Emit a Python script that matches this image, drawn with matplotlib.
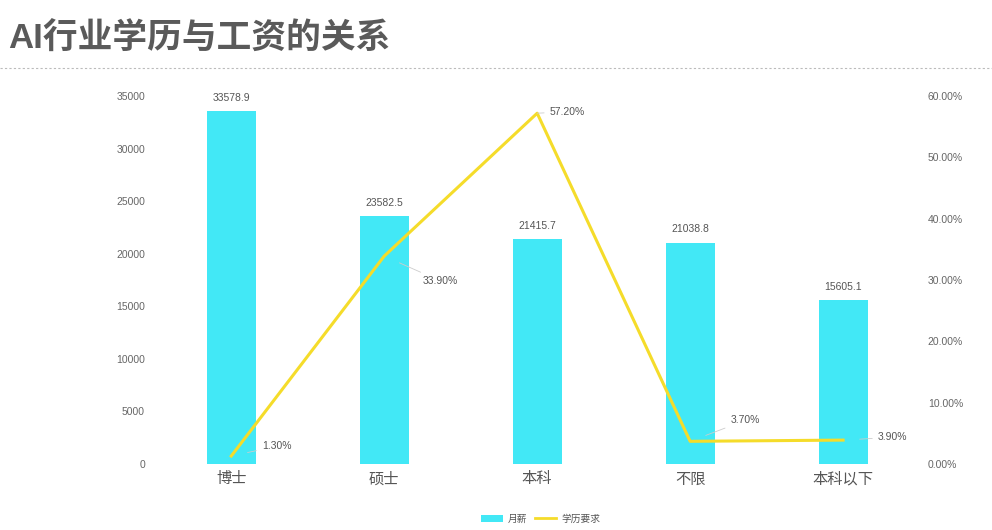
import matplotlib
matplotlib.use("Agg")
import matplotlib.pyplot as plt
from matplotlib.lines import Line2D
from matplotlib.patches import Patch

plt.rcParams['font.family'] = ['Liberation Sans', 'Noto Sans CJK SC', 'DejaVu Sans']

categories = ['博士', '硕士', '本科', '不限', '本科以下']
salary = [33578.9, 23582.5, 21415.7, 21038.8, 15605.1]
edu_share = [1.30, 33.90, 57.20, 3.70, 3.90]
left_ticks = [0, 5000, 10000, 15000, 20000, 25000, 30000, 35000]
right_ticks = [0, 10, 20, 30, 40, 50, 60]
title = 'AI行业学历与工资的关系'

bar_color = '#42e8f6'
line_color = '#f5dc2a'
txt_color = '#666666'

fig = plt.figure(figsize=(9.92, 5.30), dpi=100)
fig.patch.set_facecolor('white')

fig.text(0.008, 0.925, title, fontsize=25, fontweight='bold', color='#5a5a5a',
         ha='left', va='center', family=['Liberation Sans', 'Noto Sans CJK SC'])
fig.add_artist(Line2D([0, 1], [0.872, 0.872], transform=fig.transFigure,
                      color='#bbbbbb', lw=0.8, ls=(0, (2, 2))))

ax = fig.add_axes([0.156, 0.1245, 0.771, 0.6943])
x = list(range(len(categories)))
ax.bar(x, salary, width=0.32, color=bar_color, zorder=2)
ax.set_xlim(-0.5, 4.5)
ax.set_ylim(0, 35000)
ax.set_yticks(left_ticks)
ax.set_yticklabels([str(v) for v in left_ticks], fontsize=7.5, color=txt_color)
ax.set_xticks(x)
ax.set_xticklabels(categories, fontsize=11, color='#555555')
ax.tick_params(axis='y', length=0, pad=7)
ax.tick_params(axis='x', length=0, pad=6)
for s in ax.spines.values():
    s.set_visible(False)
for xi, v in zip(x, salary):
    ax.annotate(f'{v:.1f}', (xi, v), xytext=(0, 6), textcoords='offset points',
                ha='center', va='bottom', fontsize=7.5, color='#555555')

ax2 = ax.twinx()
ax2.set_ylim(0, 60)
ax2.set_yticks(right_ticks)
ax2.set_yticklabels([f'{v:.2f}%' for v in right_ticks], fontsize=7.5, color=txt_color)
ax2.tick_params(axis='y', length=0, pad=6)
for s in ax2.spines.values():
    s.set_visible(False)
ax2.plot(x, edu_share, color=line_color, lw=2.2, zorder=3)

# label offsets in points (dx, dy)
offsets = [(22, 7), (28, -18), (9, 1), (29, 15), (25, 2)]
for xi, v, (dx, dy) in zip(x, edu_share, offsets):
    ax2.annotate(f'{v:.2f}%', (xi, v), xytext=(dx, dy), textcoords='offset points',
                 ha='left', va='center', fontsize=7.5, color='#555555',
                 arrowprops=dict(arrowstyle='-', color='#cccccc', lw=0.6,
                                 shrinkA=2, shrinkB=12))

handles = [Patch(facecolor=bar_color, edgecolor='none'),
           Line2D([0], [0], color=line_color, lw=2)]
fig.legend(handles, ['月薪', '学历要求'], loc='center', bbox_to_anchor=(0.545, 0.021),
           ncol=2, frameon=False, fontsize=7, handlelength=2.2, handleheight=0.8,
           columnspacing=0.8, handletextpad=0.5, labelcolor='#555555')

fig.savefig('out.png', dpi=100, facecolor='white')
